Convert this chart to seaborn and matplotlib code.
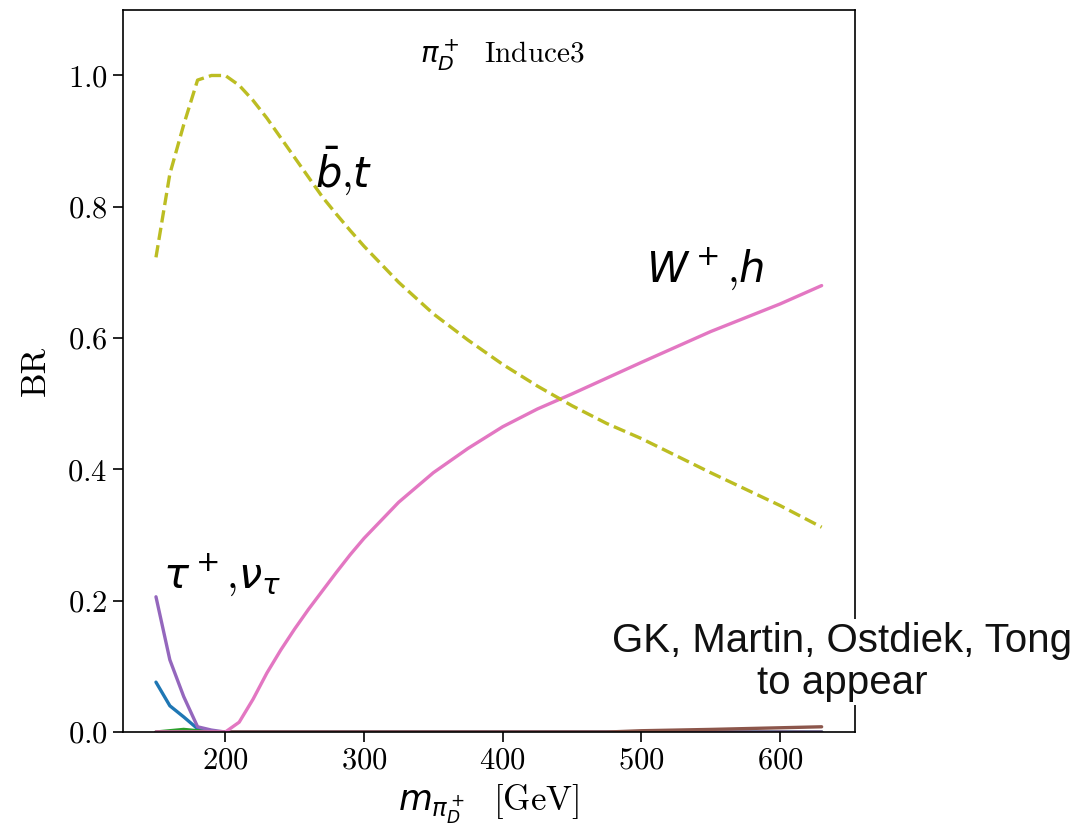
import matplotlib
matplotlib.use('Agg')
import matplotlib.pyplot as plt
import seaborn as sns

# masses of pi_D^+ (GeV)
mass = [150, 160, 170, 180, 190, 200, 210, 220, 230, 240, 250, 260, 270, 280, 290,
        300, 325, 350, 375, 400, 425, 450, 475, 500, 550, 600, 630]

# branching ratios per channel
br_blue = [0.076, 0.040, 0.023, 0.005] + [0.0] * 23
br_green = [0.0, 0.002, 0.004, 0.002] + [0.0] * 23
br_red = [0.0] * 27
br_taunu = [0.206, 0.110, 0.054, 0.008, 0.003] + [0.0] * 22
br_brown = [0.0] * 22 + [0.0, 0.002, 0.004, 0.0065, 0.008]
br_wh = [0.0, 0.0, 0.0, 0.0, 0.0, 0.0, 0.015, 0.05, 0.09, 0.125, 0.157, 0.187, 0.215,
         0.243, 0.27, 0.295, 0.35, 0.395, 0.432, 0.465, 0.492, 0.515, 0.539, 0.563,
         0.61, 0.652, 0.68]
br_bt = [0.723, 0.85, 0.925, 0.993, 1.0, 1.0, 0.985, 0.962, 0.935, 0.905, 0.875,
         0.845, 0.815, 0.789, 0.764, 0.74, 0.685, 0.637, 0.597, 0.56, 0.527, 0.497,
         0.47, 0.447, 0.395, 0.345, 0.312]

sns.set_style('ticks')
plt.rcParams['font.family'] = ['cmr10', 'DejaVu Sans']
plt.rcParams['mathtext.fontset'] = 'cm'
plt.rcParams['axes.formatter.use_mathtext'] = True
plt.rcParams['text.color'] = 'black'
plt.rcParams['axes.labelcolor'] = 'black'
plt.rcParams['xtick.color'] = 'black'
plt.rcParams['ytick.color'] = 'black'

fig = plt.figure(figsize=(10.8, 8.33), dpi=100)
ax = fig.add_axes([0.1136, 0.1212, 0.678, 0.867])

lines = [
    (br_blue, 'tab:blue', '-'),
    (br_green, 'tab:green', '-'),
    (br_red, 'tab:red', '--'),
    (br_taunu, 'tab:purple', '-'),
    (br_brown, 'tab:brown', '-'),
    (br_wh, 'tab:pink', '-'),
    (br_bt, 'tab:olive', '--'),
]
for vals, col, ls in lines:
    sns.lineplot(x=mass, y=vals, color=col, linestyle=ls, lw=2.4, ax=ax)

ax.set_ylim(0, 1.1)
ax.set_yticks([0.0, 0.2, 0.4, 0.6, 0.8, 1.0])
ax.set_xticks([200, 300, 400, 500, 600])
ax.tick_params(direction='out', length=7, width=1.2, labelsize=22, pad=4)
for s in ax.spines.values():
    s.set_color('black')
    s.set_linewidth(1.2)

ax.set_xlabel(r'$m_{\pi_D^+}$  [GeV]', fontsize=25, labelpad=5,
              math_fontfamily='dejavusans')
ax.set_ylabel('BR', fontsize=25, labelpad=11)

ax.text(0.519, 0.938, r'$\pi_D^+$  Induce3', transform=ax.transAxes,
        ha='center', va='center', fontsize=21, math_fontfamily='dejavusans')

lab = dict(fontsize=30, math_fontfamily='dejavusans', ha='left', va='baseline')
ax.text(265, 0.83, r'$\bar{b}$,$t$', **lab)
ax.text(503, 0.686, r'$W^+$,$h$', **lab)
ax.text(155, 0.22, r'$\tau^+$,$\nu_\tau$', **lab)

fig.text(0.78, 0.205, 'GK, Martin, Ostdiek, Tong\nto appear',
         family=['Liberation Sans'], fontsize=29, ha='center', va='center',
         linespacing=1.15, color='#111111',
         bbox=dict(facecolor='white', edgecolor='none', pad=2))

fig.savefig('out.png', dpi=100)
